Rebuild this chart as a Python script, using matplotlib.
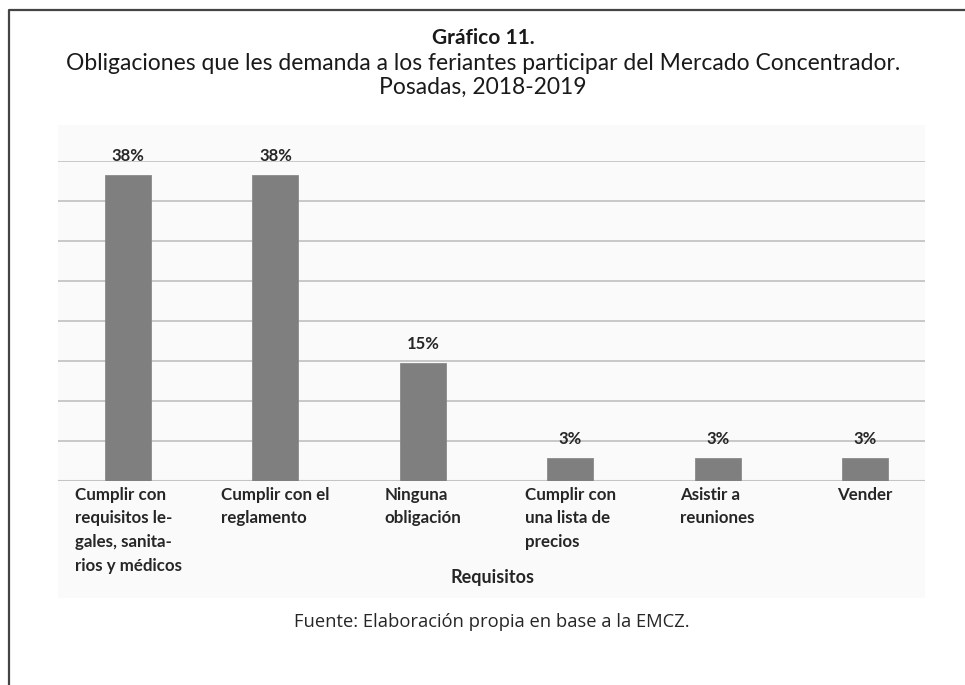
import matplotlib
matplotlib.use("Agg")
import matplotlib.pyplot as plt
from matplotlib import font_manager
from matplotlib.patches import Rectangle
from matplotlib.lines import Line2D

categories = [
    "Cumplir con\nrequisitos le-\ngales, sanita-\nrios y médicos",
    "Cumplir con el\nreglamento",
    "Ninguna\nobligación",
    "Cumplir con\nuna lista de\nprecios",
    "Asistir a\nreuniones",
    "Vender",
]
values = [38.2, 38.2, 14.7, 2.9, 2.9, 2.9]
grid_ticks = [5, 10, 15, 20, 25, 30, 35, 40]

title = "Gráfico 11."
subtitle = "Obligaciones que les demanda a los feriantes participar del Mercado Concentrador.\nPosadas, 2018-2019"
xlabel = "Requisitos"
source = "Fuente: Elaboración propia en base a la EMCZ."

available = {f.name for f in font_manager.fontManager.ttflist}
narrow = "Liberation Sans Narrow" if "Liberation Sans Narrow" in available else "Lato"
body = "Open Sans"

W, H = 965, 685
fig = plt.figure(figsize=(W / 100, H / 100), dpi=100)
fig.patch.set_facecolor("white")

def fx(px):
    return px / W

def fy(py):
    return 1 - py / H

# chart area background
fig.patches.append(Rectangle((fx(58), fy(598)), fx(925) - fx(58), fy(125) - fy(598),
                             transform=fig.transFigure, facecolor="#fafafa",
                             edgecolor="none", zorder=-5))
# outer frame (left and top)
fig.lines.append(Line2D([fx(9), fx(9), fx(965)], [fy(685), fy(10), fy(10)],
                        transform=fig.transFigure, color="#444444", lw=1.6, zorder=-4))

ax = fig.add_axes([fx(58), fy(481), fx(925) - fx(58), fy(161) - fy(481)])
ax.set_zorder(5)
ax.set_facecolor("none")
x = list(range(len(categories)))
ax.bar(x, values, width=0.312, color="#7f7f7f", edgecolor="#8a8a8a", lw=0.6, zorder=3)
ax.set_xlim(-0.475, 5.407)
ax.set_ylim(0, 40)
for t in grid_ticks:
    ax.axhline(t, color="#c4c4c4", lw=1.3, zorder=1)
ax.axhline(0, color="#c4c4c4", lw=1.5, zorder=2)
for s in ax.spines.values():
    s.set_visible(False)
ax.set_yticks([])
ax.set_xticks(x)
ax.set_xticklabels(categories, fontfamily=narrow, fontweight="bold", fontsize=12.2,
                   color="#262626", ha="center", va="top", multialignment="left",
                   linespacing=1.6)
ax.tick_params(axis="x", length=0, pad=4)

for xi, v in zip(x, values):
    ax.annotate(f"{v:.0f}%", (xi, v), xytext=(0, 8), textcoords="offset points",
                ha="center", va="bottom", fontfamily=narrow, fontweight="bold",
                fontsize=12, color="#262626", annotation_clip=False)

fig.text(fx(483), fy(38), title, ha="center", va="center", fontfamily=narrow,
         fontweight="bold", fontsize=15, color="#1a1a1a")
fig.text(fx(483), fy(75.5), subtitle, ha="center", va="center", fontfamily=narrow,
         fontsize=16.5, color="#1a1a1a", linespacing=1.2)
fig.text(fx(493), fy(577), xlabel, ha="center", va="center", fontfamily=narrow,
         fontweight="bold", fontsize=13, color="#262626")
fig.text(fx(492), fy(622), source, ha="center", va="center", fontfamily=body,
         fontsize=13.2, color="#262626")

fig.savefig("out.png", dpi=100)
